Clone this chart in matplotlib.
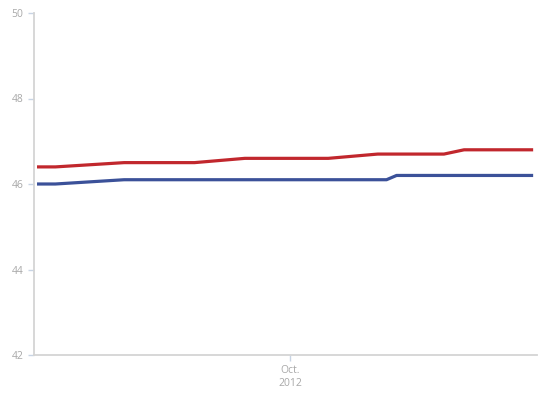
import matplotlib
matplotlib.use('Agg')
import matplotlib.pyplot as plt
import matplotlib.dates as mdates
import pandas as pd

# poll averages (percent)
red_dates = ['2012-09-06 00:00', '2012-09-07 16:00', '2012-09-14 12:00', '2012-09-21 12:00',
             '2012-09-26 12:00', '2012-10-04 19:00', '2012-10-09 17:00', '2012-10-16 07:00',
             '2012-10-18 07:00', '2012-10-25 00:00']
red_values = [46.4, 46.4, 46.5, 46.5, 46.6, 46.6, 46.7, 46.7, 46.8, 46.8]

blue_dates = ['2012-09-06 00:00', '2012-09-07 16:00', '2012-09-14 12:00', '2012-10-10 14:00',
              '2012-10-11 14:00', '2012-10-25 00:00']
blue_values = [46.0, 46.0, 46.1, 46.1, 46.2, 46.2]

y_ticks = [42, 44, 46, 48, 50]
x_tick = '2012-10-01'
x_tick_label = 'Oct.\n2012'

grey = '#a8a8a8'
spine_col = '#d4d4d4'
tick_col = '#c8d4e4'

plt.rcParams['font.family'] = ['Open Sans', 'DejaVu Sans']

fig = plt.figure(figsize=(5.5, 3.94), dpi=100)
ax = fig.add_axes([34 / 550, 39 / 394, 503 / 550, 342 / 394])

ax.plot(pd.to_datetime(red_dates), red_values, color='#c1272d', lw=2.3, solid_joinstyle='round')
ax.plot(pd.to_datetime(blue_dates), blue_values, color='#3b5199', lw=2.3, solid_joinstyle='round')

ax.set_ylim(42, 50)
ax.set_yticks(y_ticks)
ax.set_xlim(pd.Timestamp('2012-09-05 13:00'), pd.Timestamp('2012-10-25 13:00'))
ax.set_xticks([mdates.date2num(pd.Timestamp(x_tick))])
ax.set_xticklabels([x_tick_label], linespacing=1.25)

for side in ['top', 'right']:
    ax.spines[side].set_visible(False)
for side in ['left', 'bottom']:
    ax.spines[side].set_color(spine_col)
    ax.spines[side].set_linewidth(1.3)

ax.tick_params(axis='both', colors=tick_col, labelcolor=grey, labelsize=7.5, length=4, width=1)
ax.tick_params(axis='y', pad=3.5)
ax.tick_params(axis='x', pad=3)

fig.savefig('out.png', dpi=100)
